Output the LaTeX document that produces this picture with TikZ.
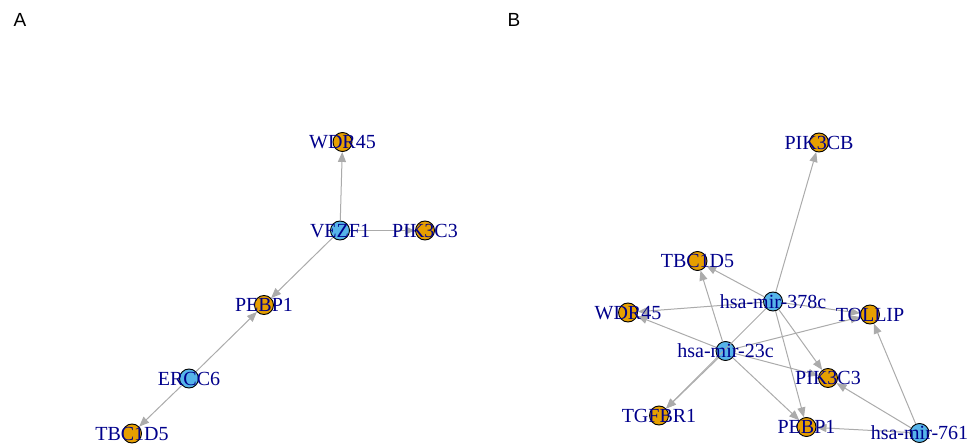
\documentclass[tikz,border=0pt]{standalone}
\usepackage{fontspec}
\setmainfont{Liberation Serif}
\newfontfamily\panelfont{Liberation Sans}
\usetikzlibrary{arrows.meta,calc}
\definecolor{vorange}{HTML}{E69F00}
\definecolor{vblue}{HTML}{56B4E9}
\definecolor{edgegrey}{HTML}{ABABAB}
\definecolor{labblue}{HTML}{00008B}
\tikzset{
  vtx/.style={circle,draw=black,line width=0.9pt,minimum size=19pt,inner sep=0pt},
  gene/.style={vtx,fill=vorange},
  reg/.style={vtx,fill=vblue},
  edge/.style={draw=edgegrey,line width=1pt,-{Triangle[length=10pt,width=8pt]}},
  lab/.style={text=labblue,font=\fontsize{20}{20}\selectfont,inner sep=0pt,anchor=base},
  paneltag/.style={font=\panelfont\fontsize{19}{19}\selectfont,inner sep=0pt}
}
\newcommand{\vlabel}[2]{\node[lab] at ($(#1)+(0,6.6)$) {#2};}
\begin{document}
\begin{tikzpicture}[x=1pt,y=-1pt]
\useasboundingbox (0,0) rectangle (977,446);
\node[paneltag] (tagA) at (20,19.5) {A};
\node[paneltag] (tagB) at (514,19.5) {B};
% Panel A nodes
\node[gene] (aWDR) at (342.5,142) {};
\node[reg]  (aVEZ) at (340,230.5) {};
\node[gene] (aPIK) at (425,230.5) {};
\node[gene] (aPEB) at (264,305) {};
\node[reg]  (aERC) at (189,378.5) {};
\node[gene] (aTBC) at (132,433.5) {};
% Panel A edges
\draw[edge] (aVEZ) -- (aWDR);
\draw[edge] (aVEZ) -- (aPIK);
\draw[edge] (aVEZ) -- (aPEB);
\draw[edge] (aERC) -- (aPEB);
\draw[edge] (aERC) -- (aTBC);
% Panel A labels
\vlabel{aWDR}{WDR45}
\vlabel{aVEZ}{VEZF1}
\vlabel{aPIK}{PIK3C3}
\vlabel{aPEB}{PEBP1}
\vlabel{aERC}{ERCC6}
\vlabel{aTBC}{TBC1D5}
% Panel B nodes
\node[gene] (bPCB) at (819,142.5) {};
\node[gene] (bTBC) at (697.5,261) {};
\node[reg]  (bM378) at (773,301.5) {};
\node[gene] (bWDR) at (628,312.5) {};
\node[gene] (bTOL) at (870,314.5) {};
\node[reg]  (bM23) at (725.5,351) {};
\node[gene] (bPIK) at (828,378) {};
\node[gene] (bTGF) at (659,415.5) {};
\node[gene] (bPEB) at (806.5,427) {};
\node[reg]  (bM761) at (919.5,433) {};
% Panel B edges
\foreach \t in {bPCB,bTBC,bWDR,bTOL,bPIK,bPEB,bTGF}
  \draw[edge] (bM378) -- (\t);
\foreach \t in {bTBC,bWDR,bTOL,bPIK,bPEB,bTGF}
  \draw[edge] (bM23) -- (\t);
\foreach \t in {bTOL,bPIK,bPEB}
  \draw[edge] (bM761) -- (\t);
% Panel B labels
\vlabel{bPCB}{PIK3CB}
\vlabel{bTBC}{TBC1D5}
\vlabel{bM378}{hsa-mir-378c}
\vlabel{bWDR}{WDR45}
\vlabel{bTOL}{TOLLIP}
\vlabel{bM23}{hsa-mir-23c}
\vlabel{bPIK}{PIK3C3}
\vlabel{bTGF}{TGFBR1}
\vlabel{bPEB}{PEBP1}
\vlabel{bM761}{hsa-mir-761}
\end{tikzpicture}
\end{document}
